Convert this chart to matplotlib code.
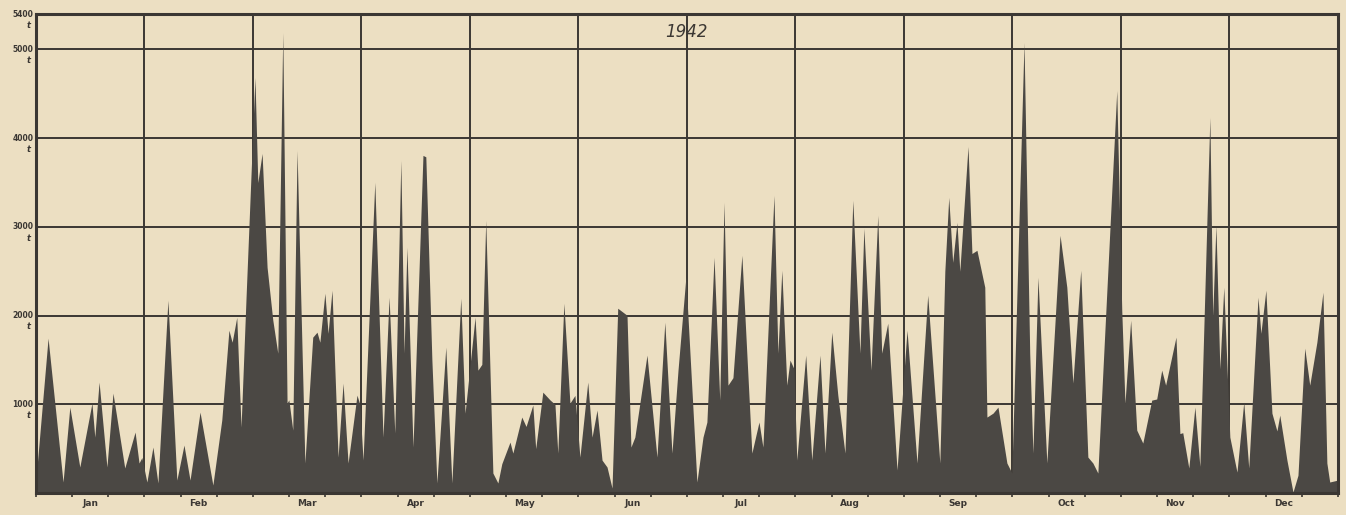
import numpy as np
import matplotlib
matplotlib.use("Agg")
import matplotlib.pyplot as plt
from matplotlib.transforms import blended_transform_factory

# daily tonnage 1942, turning points (day of year, tonnes)
day = [0, 3.4, 7.6, 9.5, 12.3, 15.7, 16.5, 17.7, 19.9, 21.6, 24.9, 27.8, 28.9, 29.7,
       31.1, 32.8, 34.2, 37.0, 39.5, 41.5, 43.2, 46.0, 49.6, 52.1, 54.1, 55.0, 56.3,
       57.5, 58.9, 61.4, 62.2, 63.4, 64.8, 66.4, 67.8, 69.2, 70.4, 70.9, 72.0, 73.2,
       75.4, 77.6, 78.8, 79.6, 81.0, 81.9, 83.0, 84.7, 86.1, 87.5, 90.0, 90.8, 91.7,
       95.0, 97.3, 99.0, 100.6, 102.3, 103.2, 104.0, 105.7, 108.5, 109.3, 111.0, 112.4,
       114.9, 116.6, 119.1, 120.3, 123.1, 123.9, 125.0, 126.1, 128.1, 129.5, 130.6,
       132.9, 133.7, 136.2, 137.4, 139.3, 140.1, 142.1, 144.1, 145.5, 146.3, 148.0,
       149.7, 151.1, 152.5, 154.7, 155.9, 157.3, 158.7, 160.1, 161.5, 163.1, 165.7,
       166.8, 167.9, 171.3, 174.1, 176.3, 178.3, 180.0, 182.2, 185.3, 187.0, 188.1,
       190.1, 191.7, 192.9, 194.0, 195.4, 197.9, 200.7, 202.7, 203.8, 206.9, 208.0,
       209.1, 210.5, 211.4, 212.5, 213.3, 215.8, 217.5, 219.8, 221.2, 223.1, 224.8,
       226.8, 229.0, 231.0, 232.1, 234.1, 236.0, 237.1, 238.8, 241.4, 244.2, 247.0,
       250.0, 253.4, 254.8, 255.9, 257.0, 258.2, 259.0, 261.3, 262.4, 263.8, 266.0,
       266.6, 268.3, 269.7, 272.2, 273.6, 277.0, 278.6, 279.5, 280.9, 283.4, 287.1,
       289.0, 290.7, 292.9, 294.9, 296.3, 297.7, 303.0, 304.4, 305.3, 306.9, 308.6,
       310.3, 312.8, 314.2, 315.6, 316.7, 319.6, 320.7, 321.5, 323.2, 324.9, 326.3,
       329.1, 329.9, 330.8, 331.9, 333.0, 334.7, 336.7, 338.6, 340.0, 342.6, 343.4,
       344.8, 346.5, 347.9, 348.7, 350.7, 352.4, 353.8, 355.7, 357.1, 359.1, 360.8,
       361.9, 362.7, 365]
load = [150, 1745, 124, 968, 293, 1013, 630, 1250, 293, 1126, 282, 687, 338, 400,
        124, 518, 113, 2173, 146, 540, 146, 912, 90, 822, 1835, 1700, 1980,
        743, 2200, 4684, 3500, 3828, 2545, 1950, 1576, 5190, 1013, 1050, 709, 3862,
        338, 1757, 1813, 1700, 2252, 1800, 2286, 405, 1238, 338, 1103, 1000, 371,
        3502, 630, 2207, 676, 3750, 1576, 2770, 518, 3806, 3790, 1500, 113,
        1644, 113, 2196, 900, 1982, 1385, 1450, 3074, 225, 113, 330,
        574, 450, 856, 750, 991, 500, 1137, 1050, 1000, 450, 2139,
        1013, 1100, 405, 1250, 630, 935, 371, 293, 56, 2083, 2004,
        518, 630, 1554, 405, 1925, 450, 1385, 2432, 124, 630, 800,
        2657, 1047, 3277, 1216, 1300, 2680, 450, 800, 518, 3355, 1576,
        2511, 1216, 1498, 1400, 371, 1554, 371, 1554, 450, 1813, 1103,
        450, 3300, 1576, 2984, 1385, 3130, 1576, 1914, 259, 1835, 338,
        2230, 338, 2500, 3333, 2600, 3051, 2500, 3907, 2700, 2736, 2320,
        856, 900, 968, 338, 225, 5078, 1576, 450, 2432, 338, 2905,
        2320, 1240, 2511, 405, 338, 225, 4538, 2060, 1013, 1948, 709,
        563, 1047, 1060, 1385, 1216, 1757, 670, 680, 282, 968, 300,
        4234, 2000, 3018, 1400, 2320, 630, 236, 1025, 282, 2207, 1800,
        2286, 900, 700, 878, 371, 11, 200, 1633, 1216, 1700, 2263,
        338, 124, 146]

months = ["Jan", "Feb", "Mar", "Apr", "May", "Jun",
          "Jul", "Aug", "Sep", "Oct", "Nov", "Dec"]
yticks = [1000, 2000, 3000, 4000, 5000, 5400]
year_label = "1942"

paper = "#ecdfc2"
ink = "#3b3733"
fill = "#4b4844"

fig = plt.figure(figsize=(13.46, 5.15), dpi=100, facecolor=paper)
ax = fig.add_axes([0.0267, 0.0427, 0.9673, 0.9301], facecolor=paper)

month_len = 365 / 12
edges = [month_len * k for k in range(13)]

ax.set_xlim(0, 365)
ax.set_ylim(0, 5400)

# grid
for e in edges[1:-1]:
    ax.axvline(e, color=ink, lw=1.4, zorder=1)
for v in yticks[:-1]:
    ax.axhline(v, color=ink, lw=1.4, zorder=1)

ax.fill_between(day, load, 0, color=fill, lw=0, zorder=2)

for s in ax.spines.values():
    s.set_linewidth(2.2)
    s.set_color(ink)
    s.set_zorder(3)

# x ticks: every third of a month, labels at month centres
ax.set_xticks([month_len * k / 3 for k in range(37)])
ax.set_xticklabels([])
ax.tick_params(axis="x", direction="out", length=3, width=1.2, color=ink)
ax.set_yticks([])
trans_x = blended_transform_factory(ax.transData, ax.transAxes)
for i, m in enumerate(months):
    ax.text(month_len * (i + 0.5), -0.012, m, transform=trans_x, ha="center",
            va="top", fontsize=6.5, fontweight="bold", color=ink)

# y labels: value with unit below
trans_y = blended_transform_factory(ax.transAxes, ax.transData)
for v in yticks:
    ax.text(-0.002, v, str(v), transform=trans_y, ha="right", va="center",
            fontsize=5.5, fontweight="bold", color=ink)
    ax.annotate("t", (-0.004, v), xycoords=trans_y, xytext=(0, -8),
                textcoords="offset points", ha="right", va="center",
                fontsize=6, fontweight="bold", style="italic", color=ink)

ax.text(0.5, 5200, year_label, transform=trans_y, ha="center", va="center",
        fontsize=12, style="italic", color=ink)

fig.savefig("out.png", dpi=100, facecolor=paper)
